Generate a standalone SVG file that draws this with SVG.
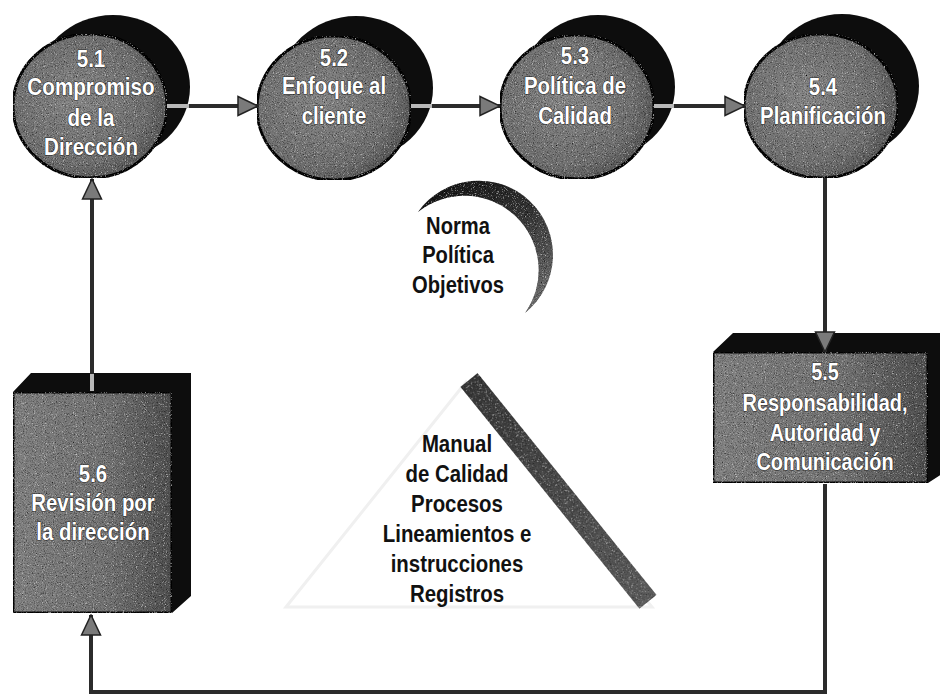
<svg xmlns="http://www.w3.org/2000/svg" width="940" height="697" viewBox="0 0 940 697">
  <style>
    .back { fill: #0d0d0d; }
    .front { fill: url(#ballShade); stroke: #0a0a0a; stroke-width: 3; filter: url(#grain); }
    .boxFront { fill: url(#boxShade); stroke: #0a0a0a; stroke-width: 3; filter: url(#grain); }
    .boxSide { fill: #0d0d0d; }
    .lbl { font-family: "Liberation Sans", Arial, sans-serif; font-weight: bold; font-size: 24px; text-anchor: middle; fill: #ffffff; stroke: #2a2a2a; stroke-width: 1.2; paint-order: stroke; }
    .note { font-family: "Liberation Sans", Arial, sans-serif; font-weight: bold; font-size: 24px; text-anchor: middle; fill: #111111; }
    .wire { fill: none; stroke: #2b2b2b; stroke-width: 4; }
    .wireLight { fill: none; stroke: #b8b8b8; stroke-width: 4; }
  </style>
  <defs>
    <filter id="grain" x="0" y="0" width="100%" height="100%">
      <feTurbulence type="fractalNoise" baseFrequency="0.9" numOctaves="2" seed="7" result="noise"/>
      <feColorMatrix in="noise" type="matrix" values="0 0 0 0 0  0 0 0 0 0  0 0 0 0 0  2.2 0 0 0 -1.0" result="darkSpecks"/>
      <feColorMatrix in="noise" type="matrix" values="0 0 0 0 1  0 0 0 0 1  0 0 0 0 1  0 -1.6 0 0 0.62" result="lightSpecks"/>
      <feComposite in="darkSpecks" in2="SourceGraphic" operator="in" result="darkOn"/>
      <feComposite in="lightSpecks" in2="SourceGraphic" operator="in" result="lightOn"/>
      <feMerge>
        <feMergeNode in="SourceGraphic"/>
        <feMergeNode in="darkOn"/>
        <feMergeNode in="lightOn"/>
      </feMerge>
    </filter>
    <radialGradient id="ballShade" cx="0.42" cy="0.45" r="0.65">
      <stop offset="0" stop-color="#8a8a8a"/>
      <stop offset="0.7" stop-color="#737373"/>
      <stop offset="1" stop-color="#505050"/>
    </radialGradient>
    <linearGradient id="boxShade" x1="0" y1="0" x2="1" y2="0">
      <stop offset="0" stop-color="#848484"/>
      <stop offset="0.6" stop-color="#767676"/>
      <stop offset="1" stop-color="#525252"/>
    </linearGradient>
    <linearGradient id="moonShade" x1="0" y1="0" x2="0.6" y2="1">
      <stop offset="0" stop-color="#151515"/>
      <stop offset="0.5" stop-color="#353535"/>
      <stop offset="1" stop-color="#6a6a6a"/>
    </linearGradient>
    <linearGradient id="barShade" x1="0" y1="0" x2="1" y2="0">
      <stop offset="0" stop-color="#3a3a3a"/>
      <stop offset="1" stop-color="#5e5e5e"/>
    </linearGradient>
    <marker id="arrow" viewBox="0 0 22 22" refX="21" refY="11" markerWidth="22" markerHeight="22" markerUnits="userSpaceOnUse" orient="auto">
      <path d="M1,1.5 L21,11 L1,20.5 Z" fill="#7a7a7a" stroke="#222222" stroke-width="1.5"/>
    </marker>
  </defs>

  <rect width="940" height="697" fill="#ffffff"/>

  <!-- faint document triangle -->
  <g id="doc-triangle">
    <polygon points="286,607 466,382 652,607" fill="none" stroke="#f0f0f0" stroke-width="3"/>
    <rect x="0" y="-11" width="285" height="22" fill="url(#barShade)" filter="url(#grain)" transform="translate(469,380) rotate(51.1)"/>
    <g transform="translate(457,0) scale(0.85,1)">
      <text class="note" x="0" y="452">Manual</text>
      <text class="note" x="0" y="482">de Calidad</text>
      <text class="note" x="0" y="512">Procesos</text>
      <text class="note" x="0" y="542">Lineamientos e</text>
      <text class="note" x="0" y="572">instrucciones</text>
      <text class="note" x="0" y="602">Registros</text>
    </g>
  </g>

  <!-- crescent with policy notes -->
  <g id="policy-moon">
    <path d="M418,212 A74.3,74.3 0 1 1 525,313 A74.3,74.3 0 0 0 418,212 Z" fill="url(#moonShade)" filter="url(#grain)"/>
    <g transform="translate(458,0) scale(0.84,1)">
      <text class="note" x="0" y="234">Norma</text>
      <text class="note" x="0" y="263">Política</text>
      <text class="note" x="0" y="293">Objetivos</text>
    </g>
  </g>

  <!-- 5.1 -->
  <g id="n51">
    <ellipse class="back" cx="113" cy="87" rx="77" ry="72"/>
    <ellipse class="front" cx="90" cy="106" rx="77" ry="72"/>
    <g transform="translate(91,0) scale(0.86,1)">
      <text class="lbl" x="0" y="67">5.1</text>
      <text class="lbl" x="0" y="95">Compromiso</text>
      <text class="lbl" x="0" y="126">de la</text>
      <text class="lbl" x="0" y="155">Dirección</text>
    </g>
  </g>

  <!-- 5.2 -->
  <g id="n52">
    <ellipse class="back" cx="356" cy="88" rx="77" ry="72"/>
    <ellipse class="front" cx="334" cy="108" rx="77" ry="72"/>
    <g transform="translate(334,0) scale(0.85,1)">
      <text class="lbl" x="0" y="66">5.2</text>
      <text class="lbl" x="0" y="94">Enfoque al</text>
      <text class="lbl" x="0" y="124">cliente</text>
    </g>
  </g>

  <!-- 5.3 -->
  <g id="n53">
    <ellipse class="back" cx="598" cy="87" rx="77" ry="72"/>
    <ellipse class="front" cx="577" cy="107" rx="77" ry="72"/>
    <g transform="translate(575,0) scale(0.85,1)">
      <text class="lbl" x="0" y="64">5.3</text>
      <text class="lbl" x="0" y="94">Política de</text>
      <text class="lbl" x="0" y="124">Calidad</text>
    </g>
  </g>

  <!-- 5.4 -->
  <g id="n54">
    <ellipse class="back" cx="842" cy="86" rx="77" ry="72"/>
    <ellipse class="front" cx="821" cy="106" rx="77" ry="72"/>
    <g transform="translate(823,0) scale(0.85,1)">
      <text class="lbl" x="0" y="95">5.4</text>
      <text class="lbl" x="0" y="124">Planificación</text>
    </g>
  </g>

  <!-- 5.5 -->
  <g id="n55">
    <polygon class="boxSide" points="713,352 733,333 948,333 948,470 928,483 928,352"/>
    <rect class="boxFront" x="713" y="352" width="215" height="131"/>
    <g transform="translate(825,0) scale(0.83,1)">
      <text class="lbl" x="0" y="380">5.5</text>
      <text class="lbl" x="0" y="411">Responsabilidad,</text>
      <text class="lbl" x="0" y="441">Autoridad y</text>
      <text class="lbl" x="0" y="470">Comunicación</text>
    </g>
  </g>

  <!-- 5.6 -->
  <g id="n56">
    <polygon class="boxSide" points="13,392 31,373 191,373 191,596 172,613 172,392"/>
    <rect class="boxFront" x="13" y="392" width="159" height="221"/>
    <g transform="translate(93,0) scale(0.85,1)">
      <text class="lbl" x="0" y="482">5.6</text>
      <text class="lbl" x="0" y="511">Revisión por</text>
      <text class="lbl" x="0" y="540">la dirección</text>
    </g>
  </g>

  <!-- connectors -->
  <g id="connectors">
    <line class="wireLight" x1="167" y1="106" x2="189" y2="106"/>
    <path class="wire" d="M189,106 H258" marker-end="url(#arrow)"/>

    <line class="wireLight" x1="411" y1="106" x2="432" y2="106"/>
    <path class="wire" d="M432,106 H500" marker-end="url(#arrow)"/>

    <line class="wireLight" x1="654" y1="106" x2="674" y2="106"/>
    <path class="wire" d="M674,106 H745" marker-end="url(#arrow)"/>

    <path class="wire" d="M825,178 V352" marker-end="url(#arrow)"/>

    <path class="wire" d="M825,484 V692 H91 V615" marker-end="url(#arrow)"/>

    <line class="wireLight" x1="92" y1="391" x2="92" y2="374"/>
    <path class="wire" d="M92,374 V179" marker-end="url(#arrow)"/>
  </g>
</svg>
